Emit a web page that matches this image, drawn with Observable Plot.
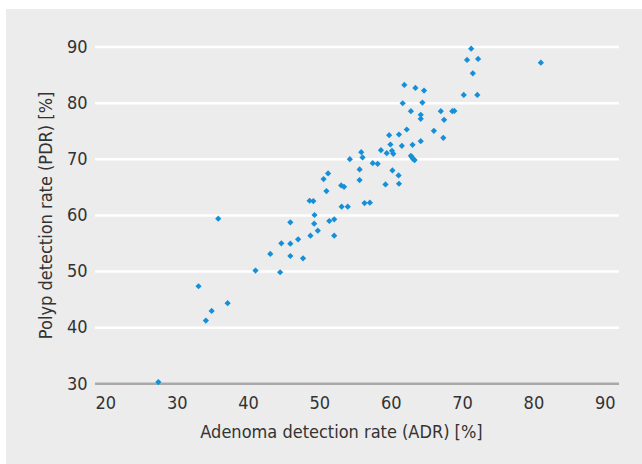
<!DOCTYPE html>
<html>
<head>
<meta charset="utf-8">
<script src="https://cdn.jsdelivr.net/npm/d3@7"></script>
<script src="https://cdn.jsdelivr.net/npm/@observablehq/plot@0.6"></script>
<style>
  html, body { margin: 0; padding: 0; background: #ffffff; }
  #wrap { position: absolute; left: 6px; top: 9px; width: 636px; height: 455px; background: #ebeceb; }
  #wrap svg { display: block; }
</style>
</head>
<body>
<div id="wrap"></div>
<script>
const adr = [27.36, 32.99, 34.02, 34.83, 35.75, 37.07, 40.98, 43.05, 44.43, 44.6,
  45.86, 45.86, 45.86, 46.95, 47.64, 48.56, 49.08, 48.68, 49.25, 49.2,
  49.71, 50.52, 51.15, 50.92, 51.32, 52.01, 52.01, 52.99, 53.39, 53.05,
  53.91, 54.2, 55.57, 55.57, 55.8, 55.98, 56.26, 57.01, 57.41, 58.1,
  58.56, 59.37, 59.2, 59.71, 59.89, 60.11, 60.29, 60.17, 61.03, 61.09,
  61.09, 61.49, 61.61, 61.84, 62.18, 62.76, 62.76, 62.93, 63.1, 63.28,
  62.99, 63.39, 64.14, 64.14, 64.14, 64.37, 64.6, 65.98, 66.95, 67.41,
  67.3, 68.56, 68.85, 70.17, 70.63, 71.21, 71.44, 72.18, 72.07, 80.98];
const pdr = [30.3, 47.38, 41.27, 42.99, 59.41, 44.36, 50.17, 53.13, 49.87, 55.03,
  58.76, 54.97, 52.77, 55.74, 52.36, 62.61, 62.55, 56.39, 60.07, 58.52,
  57.28, 66.47, 67.47, 64.33, 59.0, 59.3, 56.39, 65.34, 65.1, 61.55,
  61.55, 70.02, 68.19, 66.29, 71.27, 70.32, 62.2, 62.26, 69.31, 69.19,
  71.62, 71.09, 65.52, 74.29, 72.63, 71.5, 70.97, 68.01, 67.12, 65.64,
  74.41, 72.39, 79.98, 83.24, 75.3, 78.56, 70.62, 70.32, 70.02, 69.85,
  72.57, 82.71, 73.22, 77.91, 77.2, 80.1, 82.23, 75.06, 78.56, 77.02,
  73.82, 78.56, 78.62, 81.46, 87.69, 89.7, 85.32, 87.87, 81.46, 87.21];
const xTicks = [20, 30, 40, 50, 60, 70, 80, 90];
const yTicks = [30, 40, 50, 60, 70, 80, 90];
const gridValues = [40, 50, 60, 70, 80, 90];
const baseValue = [30];
const xTitle = "Adenoma detection rate (ADR) [%]";
const yTitle = "Polyp detection rate (PDR) [%]";

const points = adr.map((a, i) => ({adr: a, pdr: pdr[i]}));

const chart = Plot.plot({
  width: 636,
  height: 455,
  marginLeft: 89,
  marginRight: 23,
  marginTop: 37.5,
  marginBottom: 80.7,
  style: {
    background: "#ebeceb",
    fontFamily: "'DejaVu Sans Condensed', 'DejaVu Sans', sans-serif",
    fontStretch: "condensed",
    fontSize: "18px",
    color: "#333333"
  },
  x: {domain: [18.55, 92]},
  y: {domain: [30, 90]},
  marks: [
    Plot.ruleY(gridValues, {y: d => d, stroke: "#ffffff", strokeWidth: 2.5}),
    Plot.ruleY(baseValue, {y: d => d, stroke: "#a9a9a9", strokeWidth: 2.5}),
    Plot.axisX({ticks: xTicks, tickSize: 0, tickPadding: 12, label: null, fontSize: 18}),
    Plot.axisY({ticks: yTicks, tickSize: 0, tickPadding: 8, label: yTitle,
      labelAnchor: "center", labelArrow: "none", labelOffset: 56, fontSize: 18}),
    Plot.text([xTitle], {text: d => d, frameAnchor: "bottom", lineAnchor: "middle", dy: 48, dx: -16,
      fontSize: 18, fill: "#333333"}),
    Plot.dot(points, {x: "adr", y: "pdr", symbol: "diamond2", r: 2.8, fill: "#1590d8", stroke: "none"})
  ]
});
document.getElementById("wrap").appendChild(chart);
</script>
</body>
</html>
